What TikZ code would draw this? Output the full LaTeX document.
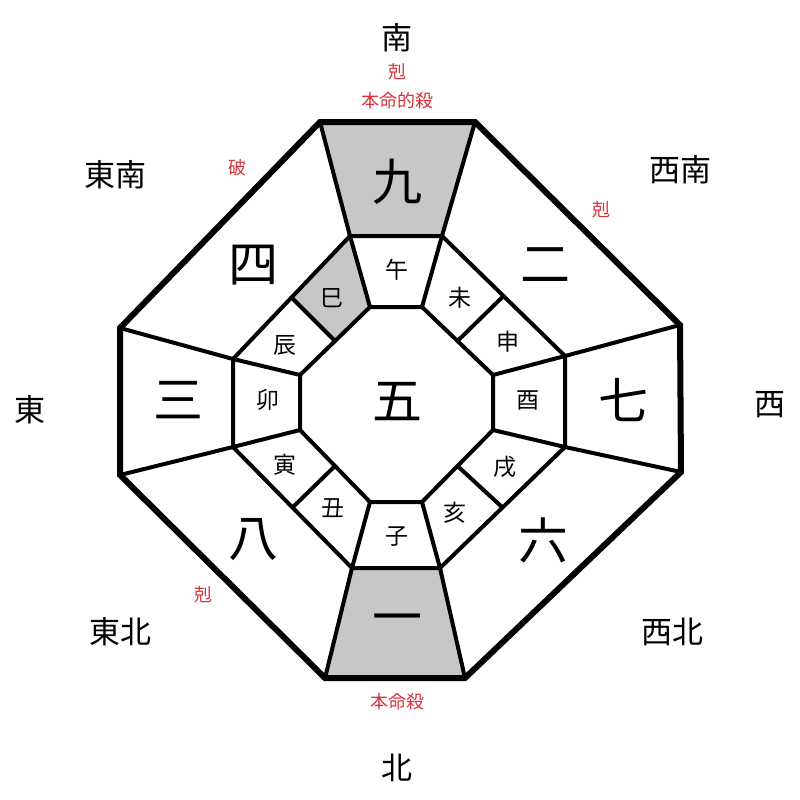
\documentclass[tikz,border=0pt]{standalone}
\usepackage{fontspec}
\setmainfont{Noto Sans CJK JP}
\usetikzlibrary{positioning, calc}
\definecolor{sectorgray}{gray}{0.78}
\definecolor{redtext}{RGB}{215,50,60}
\tikzset{
  big/.style={font=\fontsize{50}{50}\selectfont},
  branch/.style={font=\fontsize{23}{23}\selectfont},
  dirlabel/.style={font=\fontsize{31}{31}\selectfont},
  redmark/.style={font=\fontsize{18}{18}\selectfont, text=redtext},
  outer line/.style={line width=6pt, line join=miter},
  band line/.style={line width=4pt, line join=miter}
}
\begin{document}
\begin{tikzpicture}[x=1pt, y=-1pt]
	\useasboundingbox (0,0) rectangle (800,800);
	% outer octagon
	\coordinate (o1) at (320,122); \coordinate (o2) at (475,122);
	\coordinate (o3) at (680,325); \coordinate (o4) at (681,472);
	\coordinate (o5) at (465,678); \coordinate (o6) at (325,678);
	\coordinate (o7) at (120,475); \coordinate (o8) at (120,328);
	% middle octagon
	\coordinate (m1) at (350,236); \coordinate (m2) at (442,236);
	\coordinate (m3) at (565,356); \coordinate (m4) at (565,447);
	\coordinate (m5) at (440,568); \coordinate (m6) at (352,568);
	\coordinate (m7) at (233,447); \coordinate (m8) at (233,359);
	% inner octagon
	\coordinate (i1) at (370,307); \coordinate (i2) at (422,307);
	\coordinate (i3) at (493,375); \coordinate (i4) at (493,430);
	\coordinate (i5) at (422,502); \coordinate (i6) at (370,502);
	\coordinate (i7) at (300,430); \coordinate (i8) at (300,375);
	% shaded sectors
	\fill[sectorgray] (o1) -- (o2) -- (m2) -- (m1) -- cycle;
	\fill[sectorgray] (m6) -- (m5) -- (o5) -- (o6) -- cycle;
	\fill[sectorgray] (m1) -- (i1) -- ($(i8)!0.5!(i1)$) -- ($(m8)!0.5!(m1)$) -- cycle;
	% band lines
	\foreach \a/\b in {o1/m1, o2/m2, o3/m3, o4/m4, o5/m5, o6/m6, o7/m7, o8/m8,
	                   m1/i1, m2/i2, m3/i3, m4/i4, m5/i5, m6/i6, m7/i7, m8/i8}
		\draw[band line] (\a) -- (\b);
	\foreach \a/\b/\c/\d in {m2/m3/i2/i3, m4/m5/i4/i5, m6/m7/i6/i7, m8/m1/i8/i1}
		\draw[band line] ($(\a)!0.5!(\b)$) -- ($(\c)!0.5!(\d)$);
	\draw[band line] (m1) -- (m2) -- (m3) -- (m4) -- (m5) -- (m6) -- (m7) -- (m8) -- cycle;
	\draw[band line] (i1) -- (i2) -- (i3) -- (i4) -- (i5) -- (i6) -- (i7) -- (i8) -- cycle;
	\draw[outer line] (o1) -- (o2) -- (o3) -- (o4) -- (o5) -- (o6) -- (o7) -- (o8) -- cycle;
	% numbers
	\node[big] (nine) at (397,182) {九};
	\node[big] (two) at (545,265) {二};
	\node[big] (seven) at (623,400) {七};
	\node[big] (six) at (543,540) {六};
	\node[big] (one) at (397,625) {一};
	\node[big] (eight) at (253,540) {八};
	\node[big] (three) at (178,400) {三};
	\node[big] (four) at (253,265) {四};
	\node[big] (five) at (397,402) {五};
	% branches
	\node[branch] (wu) at (397,270) {午};
	\node[branch] (wei) at (460,298) {未};
	\node[branch] (shen) at (508,342) {申};
	\node[branch] (you) at (528,400) {酉};
	\node[branch] (xu) at (505,467) {戌};
	\node[branch] (hai) at (455,513) {亥};
	\node[branch] (zi) at (397,537) {子};
	\node[branch] (chou) at (333,508) {丑};
	\node[branch] (yin) at (285,465) {寅};
	\node[branch] (mao) at (268,400) {卯};
	\node[branch] (chen) at (285,345) {辰};
	\node[branch] (si) at (332,298) {巳};
	% directions
	\node[dirlabel] (south) at (397,38) {南};
	\node[dirlabel] (southwest) at (680,170) {西南};
	\node[dirlabel] (west) at (770,405) {西};
	\node[dirlabel] (northwest) at (672,632) {西北};
	\node[dirlabel] (north) at (397,768) {北};
	\node[dirlabel] (northeast) at (120,632) {東北};
	\node[dirlabel] (east) at (30,410) {東};
	\node[dirlabel] (southeast) at (115,175) {東南};
	% marks
	\node[redmark] (kokuS) at (397,72) {剋};
	\node[redmark] (honmeiteki) at (397,101) {本命的殺};
	\node[redmark] (ha) at (237,168) {破};
	\node[redmark] (kokuSW) at (601,210) {剋};
	\node[redmark] (kokuNE) at (203,595) {剋};
	\node[redmark] (honmei) at (397,702) {本命殺};
\end{tikzpicture}
\end{document}
